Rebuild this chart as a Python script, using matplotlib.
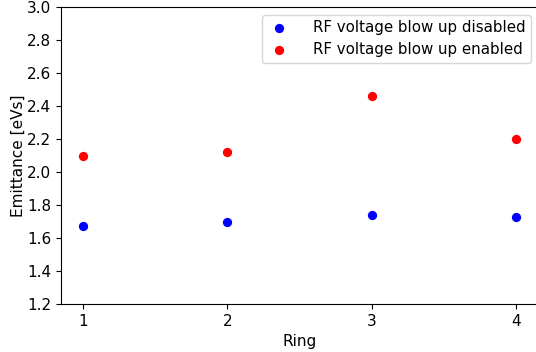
import numpy as np
import matplotlib.pyplot as plt

rings = [1, 2, 3, 4]
emit_disabled = [1.67, 1.70, 1.74, 1.73]
emit_enabled = [2.10, 2.12, 2.46, 2.20]

fig = plt.figure(figsize=(5.36, 3.52), dpi=100)
ax = fig.add_axes([61 / 536, 48 / 352, 477 / 536, 297 / 352])

ax.scatter(rings, emit_disabled, color='b', s=32, label='RF voltage blow up disabled')
ax.scatter(rings, emit_enabled, color='r', s=32, label='RF voltage blow up enabled')

ax.set_xlim(0.85, 4.15)
ax.set_ylim(1.2, 3.0)
ax.set_xticks(rings)
ax.set_yticks(np.arange(1.2, 3.01, 0.2))
ax.tick_params(labelsize=11)
ax.set_xlabel('Ring', fontsize=11)
ax.set_ylabel('Emittance [eVs]', fontsize=11, labelpad=1)
ax.legend(loc='upper right', fontsize=10.8, handlelength=1.5,
          handletextpad=1.5, borderpad=0.35)

fig.savefig('out.png', dpi=100)
